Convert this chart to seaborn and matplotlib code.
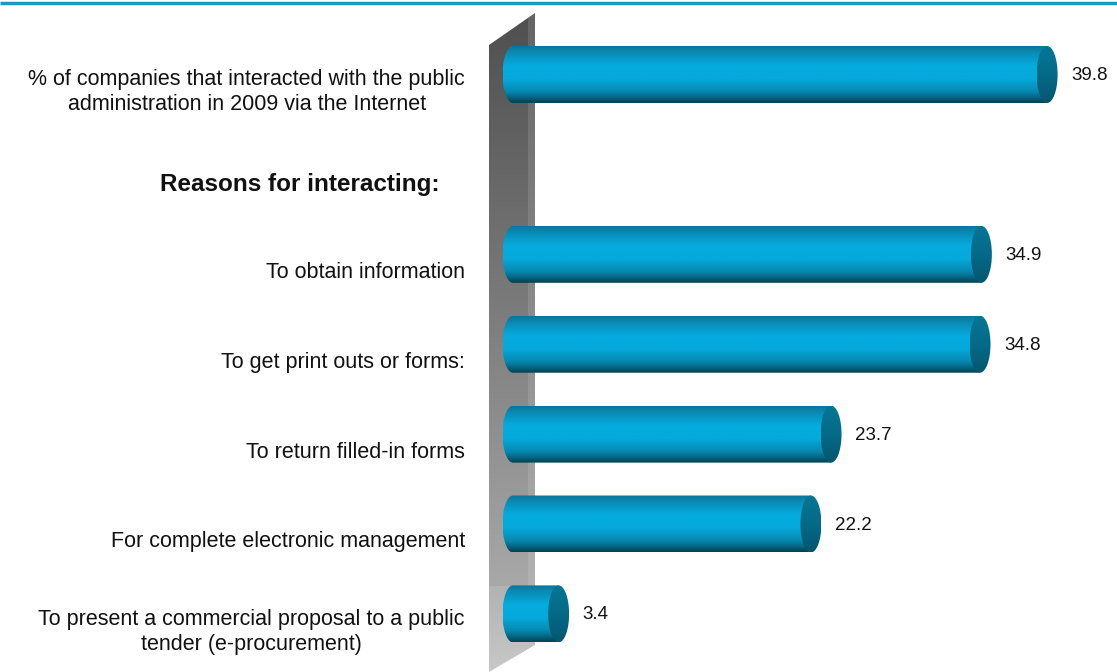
import numpy as np
import pandas as pd
import matplotlib
matplotlib.use("Agg")
import matplotlib.pyplot as plt
from matplotlib.path import Path
from matplotlib.patches import PathPatch, Polygon, Ellipse
from matplotlib.colors import LinearSegmentedColormap
import seaborn as sns

# ---- data -------------------------------------------------------------
categories = [
    "% of companies that interacted with the public\nadministration in 2009 via the Internet",
    "Reasons for interacting:",
    "To obtain information",
    "To get print outs or forms:",
    "To return filled-in forms",
    "For complete electronic management",
    "To present a commercial proposal to a public\ntender (e-procurement)",
]
values = [39.8, None, 34.9, 34.8, 23.7, 22.2, 3.4]
heading = "Reasons for interacting:"

# ---- style ------------------------------------------------------------
sns.set_theme(style="white")
plt.rcParams["font.family"] = ["Liberation Sans", "DejaVu Sans"]

W, H, DPI = 1117, 672, 100
fig = plt.figure(figsize=(W / DPI, H / DPI), dpi=DPI)
fig.patch.set_facecolor("white")

# background layer in pixel units (wall, header rule)
bg = fig.add_axes([0, 0, 1, 1], zorder=0)
bg.set_xlim(0, W)
bg.set_ylim(H, 0)
bg.axis("off")

# header rule
bg.plot([0, W], [3, 3], color="#1e98bd", lw=2.5, solid_capstyle="butt")

# grey back wall with vertical gradient
wall_cmap = LinearSegmentedColormap.from_list("wall", ["#4f4f4f", "#7a7a7a", "#a8a8a8"])
grad = np.linspace(0, 1, 256).reshape(-1, 1)
wall = Polygon([(489, 45), (535, 13), (535, 586), (489, 586)], closed=True,
               facecolor="none", edgecolor="none")
bg.add_patch(wall)
im = bg.imshow(grad, cmap=wall_cmap, extent=[489, 535, 586, 13], aspect="auto",
               origin="upper", zorder=1)
im.set_clip_path(wall)
# lighter edge strip on the wall
edge = Polygon([(528, 18), (535, 13), (535, 586), (528, 586)], closed=True,
               facecolor="white", alpha=0.12, edgecolor="none", zorder=2)
bg.add_patch(edge)
floor_cmap = LinearSegmentedColormap.from_list("floor", ["#b2b2b2", "#c8c8c8"])
floor = Polygon([(489, 586), (535, 586), (535, 645), (489, 672)], closed=True,
                facecolor="none", edgecolor="none")
bg.add_patch(floor)
im2 = bg.imshow(grad, cmap=floor_cmap, extent=[489, 535, 672, 586], aspect="auto",
                origin="upper", zorder=1)
im2.set_clip_path(floor)

# ---- main chart -------------------------------------------------------
ax_left, ax_right = 480, 1117
ax = fig.add_axes([ax_left / W, 0, (ax_right - ax_left) / W, 1], zorder=1)
ax.patch.set_alpha(0)

df = pd.DataFrame({"category": categories, "value": values}).dropna()
sns.barplot(data=df, x="value", y="category", order=categories, orient="h",
            width=0.634, color="#08a8d8", ax=ax)

# axis scaling: 0 -> px 513, 13.42 px per unit; rows 89.9 px apart from px 74.5
px_per_unit = 13.42
x0_px = 513
xlim = ((ax_left - x0_px) / px_per_unit, (ax_right - x0_px) / px_per_unit)
row0_px, row_px = 74.5, 89.9
ylim = ((H - row0_px) / row_px, (0 - row0_px) / row_px)

body_cmap = LinearSegmentedColormap.from_list(
    "body",
    [(0.0, "#0b7597"), (0.12, "#0a8cb6"), (0.35, "#05acdf"), (0.58, "#05a9db"),
     (0.8, "#0788b0"), (0.92, "#055f79"), (1.0, "#033f4e")])
cap_cmap = LinearSegmentedColormap.from_list("cap", ["#067696", "#056a88", "#04566e"])

rx = 10.5 / px_per_unit  # horizontal radius of the end caps, in data units

for bar in list(ax.patches):
    w = bar.get_width()
    y0 = bar.get_y()
    h = bar.get_height()
    y1 = y0 + h
    yc = y0 + h / 2
    bar.set_visible(False)
    if not np.isfinite(w):
        continue
    # body outline: rectangle plus the rounded back end on the left
    t = np.linspace(np.pi / 2, 3 * np.pi / 2, 40)
    back = [(0 + rx * np.cos(a), yc - (h / 2) * np.sin(a)) for a in t]
    verts = [(0, y0), (w, y0), (w, y1), (0, y1)] + back[::-1] + [(0, y0)]
    body = PathPatch(Path(verts), facecolor="none", edgecolor="none", zorder=3)
    ax.add_patch(body)
    bim = ax.imshow(grad, cmap=body_cmap, extent=[-rx, w, y1, y0], aspect="auto",
                    origin="upper", zorder=3, interpolation="bilinear")
    bim.set_clip_path(body)
    # front cap
    cap = Ellipse((w, yc), 2 * rx, h, facecolor="none", edgecolor="none", zorder=4)
    ax.add_patch(cap)
    cim = ax.imshow(grad, cmap=cap_cmap, extent=[w - rx, w + rx, y1, y0], aspect="auto",
                    origin="upper", zorder=4, interpolation="bilinear")
    cim.set_clip_path(cap)
    # value label
    ax.annotate(f"{w:.1f}", xy=(w, yc), xytext=(24, -1), textcoords="offset pixels",
                ha="left", va="center", fontsize=13.5, color="#111111", zorder=5)

ax.set_xlim(*xlim)
ax.set_ylim(*ylim)
ax.set_yticks([])
ax.set_xticks([])
ax.set_xlabel("")
ax.set_ylabel("")
for s in ax.spines.values():
    s.set_visible(False)

# category labels, drawn slightly below each row (perspective floor line)
for i, lab in enumerate(categories):
    if lab == heading:
        ax.annotate(lab, xy=(0, i), xycoords=("axes fraction", "data"),
                    xytext=(-40, -20), textcoords="offset pixels",
                    ha="right", va="center", fontsize=17.5, fontweight="bold",
                    color="#111111", annotation_clip=False)
    else:
        ax.annotate(lab, xy=(0, i), xycoords=("axes fraction", "data"),
                    xytext=(-15, -18), textcoords="offset pixels",
                    ha="right", va="center", multialignment="center",
                    fontsize=15.5, color="#111111", linespacing=1.25,
                    annotation_clip=False)

fig.savefig("out.png", dpi=DPI, facecolor="white")
